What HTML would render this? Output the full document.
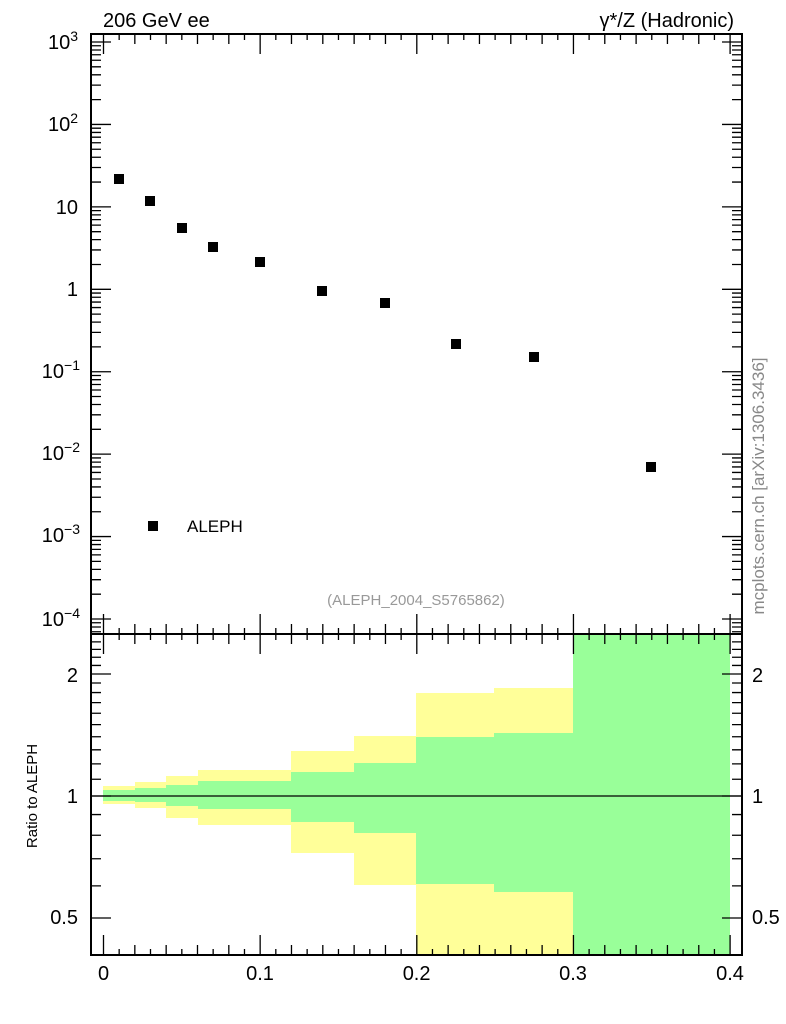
<!DOCTYPE html>
<html><head><meta charset="utf-8"><style>
html,body{margin:0;padding:0;background:#fff}
svg{display:block;font-family:"Liberation Sans",sans-serif}
</style></head><body>
<svg id="s" width="786" height="1024" viewBox="0 0 786 1024" xmlns="http://www.w3.org/2000/svg">
<g>
<path fill="#ffff99" d="M103,786H135V782H166V776H198V770H291V751H354V736H416V693H494V688H573V634H730V955H416V885H354V853H291V825H198V818H166V808H135V804H103Z"/>
<path fill="#99ff99" d="M103,790H135V788H166V785H198V781H291V772H354V763H416V737H494V733H573V634H730V955H573V892H494V884H416V833H354V822H291V809H198V806H166V802H135V801H103Z"/>
</g>
<line x1="91" y1="796" x2="742" y2="796" stroke="#000" stroke-width="1.2"/>
<g id="ticks" stroke="#000" stroke-width="1.3" fill="none"></g>
<rect x="91" y="34" width="651" height="600" fill="none" stroke="#000" stroke-width="2"/>
<rect x="91" y="634" width="651" height="321" fill="none" stroke="#000" stroke-width="2"/>
<g fill="#000">
<rect x="114" y="174" width="10" height="10"/>
<rect x="145" y="196" width="10" height="10"/>
<rect x="177" y="223" width="10" height="10"/>
<rect x="208" y="242" width="10" height="10"/>
<rect x="255" y="257" width="10" height="10"/>
<rect x="317" y="286" width="10" height="10"/>
<rect x="380" y="298" width="10" height="10"/>
<rect x="451" y="339" width="10" height="10"/>
<rect x="529" y="352" width="10" height="10"/>
<rect x="646" y="462" width="10" height="10"/>
<rect x="148" y="521" width="10" height="10"/>
</g>
<g font-size="20" fill="#000">
<text x="103" y="27">206 GeV ee</text>
<text x="734" y="27" text-anchor="end">γ*/Z (Hadronic)</text>
<text x="187" y="532" font-size="17">ALEPH</text>
<text x="416" y="605" font-size="15" fill="#999" text-anchor="middle">(ALEPH_2004_S5765862)</text>
<text transform="translate(764,486) rotate(-90)" font-size="17" fill="#888" text-anchor="middle">mcplots.cern.ch [arXiv:1306.3436]</text>
<text transform="translate(37,796) rotate(-90)" font-size="15" text-anchor="middle">Ratio to ALEPH</text>
</g>
<g font-size="20" fill="#000" text-anchor="end">
<text x="78" y="49">10<tspan font-size="14" dy="-8">3</tspan></text>
<text x="78" y="131">10<tspan font-size="14" dy="-8">2</tspan></text>
<text x="78" y="214">10</text>
<text x="78" y="296">1</text>
<text x="80" y="378">10<tspan font-size="14" dy="-8">−1</tspan></text>
<text x="80" y="460">10<tspan font-size="14" dy="-8">−2</tspan></text>
<text x="80" y="542">10<tspan font-size="14" dy="-8">−3</tspan></text>
<text x="80" y="626">10<tspan font-size="14" dy="-8">−4</tspan></text>
<text x="78" y="682">2</text>
<text x="78" y="803">1</text>
<text x="78" y="924">0.5</text>
</g>
<g font-size="20" fill="#000" text-anchor="start">
<text x="752" y="682">2</text>
<text x="752" y="803">1</text>
<text x="752" y="924">0.5</text>
</g>
<g font-size="20" fill="#000" text-anchor="middle">
<text x="103.5" y="980">0</text>
<text x="260" y="980">0.1</text>
<text x="416.6" y="980">0.2</text>
<text x="573" y="980">0.3</text>
<text x="730" y="980">0.4</text>
</g>
</svg>
<script>
var g=document.getElementById('ticks'),d='';
function L(a,b,c,e){d+='M'+a+','+b+'L'+c+','+e;}
for(var i=0;i<=42;i++){var x=103.5+i*0.01*1566.5;if(x>742)break;
 var h=(i%10==0)?20:(i%2==0?10:6);
 L(x,634,x,634-h);L(x,34,x,34+h);L(x,955,x,955-h);L(x,634,x,634+h);}
for(var k=-5;k<=3;k++){var y0=42+(3-k)*82.43;
 for(var m=1;m<=9;m++){var y=y0-Math.log10(m)*82.43;if(y<34||y>634)continue;var h=(m==1)?20:10;L(91,y,91+h,y);L(742,y,742-h,y);}}
for(var v=0.4;v<=2.5;v+=0.1){var y=796-Math.log2(v)*122;if(y<634||y>955)continue;
 var r=Math.round(v*10)/10;var big=(r==0.5||r==1||r==2);var h=big?20:10;L(91,y,91+h,y);L(742,y,742-h,y);}
var p=document.createElementNS('http://www.w3.org/2000/svg','path');p.setAttribute('d',d);g.appendChild(p);
</script>
</body></html>
